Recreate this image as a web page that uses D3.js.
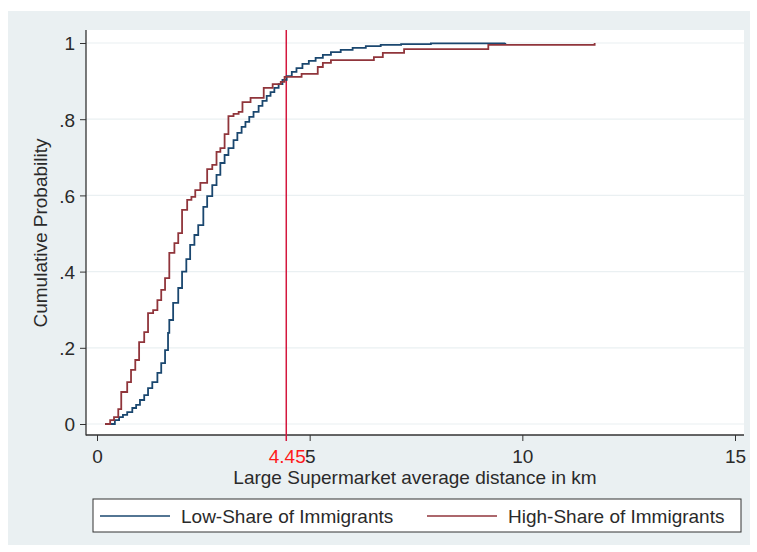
<!DOCTYPE html>
<html>
<head>
<meta charset="utf-8">
<script src="https://cdn.jsdelivr.net/npm/d3@7"></script>
<style>
  body { margin: 0; background: #fff; }
  text { font-family: Arial, "Liberation Sans", sans-serif; }
</style>
</head>
<body>
<svg id="chart" width="757" height="552"></svg>
<script>
// ECDF steps (distance km, cumulative prob)
const lowX = [0.19, 0.42, 0.52, 0.61, 0.71, 0.83, 0.92, 1.01, 1.11, 1.20, 1.30, 1.42, 1.51, 1.60, 1.67,
  1.70, 1.79, 1.91, 2.00, 2.10, 2.19, 2.29, 2.38, 2.50, 2.59, 2.71, 2.81, 2.90, 3.00, 3.09, 3.21,
  3.30, 3.40, 3.49, 3.58, 3.68, 3.80, 3.89, 3.99, 4.08, 4.17, 4.27, 4.36, 4.46, 4.58, 4.69, 4.83,
  4.98, 5.14, 5.31, 5.50, 5.73, 6.01, 6.32, 6.67, 7.15, 7.85, 9.60];
const lowP = [0.0, 0.01, 0.018, 0.024, 0.031, 0.042, 0.05, 0.063, 0.076, 0.094, 0.11, 0.134, 0.16, 0.194, 0.239,
  0.273, 0.318, 0.357, 0.40, 0.433, 0.47, 0.496, 0.522, 0.57, 0.598, 0.627, 0.654, 0.685, 0.706, 0.724, 0.745,
  0.764, 0.78, 0.793, 0.806, 0.819, 0.835, 0.848, 0.861, 0.871, 0.882, 0.892, 0.903, 0.913, 0.924, 0.934, 0.945,
  0.953, 0.961, 0.969, 0.976, 0.982, 0.987, 0.992, 0.995, 0.997, 0.999, 1.0];

const highX = [0.19, 0.31, 0.40, 0.50, 0.57, 0.71, 0.80, 0.90, 0.99, 1.11, 1.20, 1.32, 1.42, 1.51, 1.60,
  1.70, 1.82, 1.91, 2.00, 2.12, 2.22, 2.31, 2.43, 2.59, 2.71, 2.81, 2.90, 3.00, 3.09, 3.21, 3.33,
  3.42, 3.61, 3.92, 4.13, 4.32, 4.41, 4.81, 5.19, 5.31, 5.50, 6.51, 6.72, 7.22, 9.20, 11.70];
const highP = [0.0, 0.01, 0.018, 0.039, 0.084, 0.11, 0.142, 0.168, 0.215, 0.241, 0.291, 0.299, 0.325, 0.352, 0.383,
  0.449, 0.475, 0.501, 0.562, 0.588, 0.596, 0.614, 0.633, 0.669, 0.68, 0.714, 0.724, 0.761, 0.808, 0.814, 0.819,
  0.845, 0.856, 0.882, 0.892, 0.898, 0.911, 0.919, 0.937, 0.948, 0.955, 0.963, 0.974, 0.984, 0.995, 1.0];

const seriesNames = ["Low-Share of Immigrants", "High-Share of Immigrants"];
const seriesColors = ["#1a476f", "#90353b"];
const xTicks = [0, 5, 10, 15];
const yTicks = [0, 0.2, 0.4, 0.6, 0.8, 1];
const cutoff = 4.45;

const fs = 19;
const svg = d3.select("#chart");

// graph region + plot region
svg.append("rect").attr("x", 8).attr("y", 11).attr("width", 742).attr("height", 534).attr("fill", "#eaf0f2");
svg.append("rect").attr("x", 86).attr("y", 30).attr("width", 658).attr("height", 405).attr("fill", "#fff");

let x = d3.scaleLinear().domain([0, 15]).range([97, 735]);
let y = d3.scaleLinear().domain([0, 1]).range([424, 43]);

// gridlines
svg.append("g").selectAll("line")
  .data(yTicks)
  .enter().append("line")
  .attr("x1", 86).attr("x2", 744)
  .attr("y1", d => y(d)).attr("y2", d => y(d))
  .attr("stroke", "#eaf0f2").attr("stroke-width", 1.2);

// axes
let yAxis = d3.axisLeft(y).tickValues(yTicks).tickSize(6).tickPadding(5)
  .tickFormat(d => d === 0 ? "0" : d === 1 ? "1" : d3.format(".1f")(d).replace("0.", "."));
let gy = svg.append("g").attr("transform", "translate(86,0)").call(yAxis);
gy.select(".domain").remove();
gy.selectAll("text").attr("font-size", fs).attr("fill", "#2a2a2a").attr("dy", "0.36em");
gy.selectAll("line").attr("stroke", "#333");

let xAxis = d3.axisBottom(x).tickValues(xTicks).tickSize(6).tickPadding(6);
let gx = svg.append("g").attr("transform", "translate(0,435)").call(xAxis);
gx.select(".domain").remove();
gx.selectAll("text").attr("font-size", fs).attr("fill", "#2a2a2a").attr("y", 28).attr("dy", 0);
gx.selectAll("line").attr("stroke", "#333");

svg.append("line").attr("x1", 86).attr("x2", 86).attr("y1", 30).attr("y2", 435.5).attr("stroke", "#333").attr("stroke-width", 1.3);
svg.append("line").attr("x1", 86).attr("x2", 744).attr("y1", 435).attr("y2", 435).attr("stroke", "#333").attr("stroke-width", 1.3);

// cutoff line + label
svg.append("line").attr("x1", x(cutoff)).attr("x2", x(cutoff)).attr("y1", 30).attr("y2", 441)
  .attr("stroke", "#d4173d").attr("stroke-width", 1.5);
svg.append("text").attr("x", x(cutoff) + 1).attr("y", 463).attr("text-anchor", "middle")
  .attr("font-size", fs).attr("fill", "#ff1a1a").text("4.45");

// ECDF lines
let line = d3.line().x(d => x(d[0])).y(d => y(d[1])).curve(d3.curveStepAfter);
let series = [d3.zip(lowX, lowP), d3.zip(highX, highP)];
svg.append("g").selectAll("path")
  .data(series)
  .enter().append("path")
  .attr("d", line)
  .attr("fill", "none")
  .attr("stroke", (d, i) => seriesColors[i])
  .attr("stroke-width", 1.8);

// axis titles
svg.append("text").attr("x", 415).attr("y", 484).attr("text-anchor", "middle")
  .attr("font-size", fs).attr("fill", "#2a2a2a").text("Large Supermarket average distance in km");
svg.append("text").attr("transform", "translate(47,233) rotate(-90)").attr("text-anchor", "middle")
  .attr("font-size", fs).attr("fill", "#2a2a2a").text("Cumulative Probability");

// legend
svg.append("rect").attr("x", 93).attr("y", 499).attr("width", 648).attr("height", 33)
  .attr("fill", "#fff").attr("stroke", "#333").attr("stroke-width", 1);
let leg = svg.append("g").selectAll("g")
  .data(seriesNames)
  .enter().append("g")
  .attr("transform", (d, i) => "translate(" + [100, 427][i] + ",516)");
leg.append("line").attr("x1", 0).attr("x2", 70).attr("y1", 0).attr("y2", 0)
  .attr("stroke", (d, i) => seriesColors[i]).attr("stroke-width", 1.5);
leg.append("text").attr("x", 81).attr("y", 7).attr("font-size", fs).attr("fill", "#2a2a2a").text(d => d);
</script>
</body>
</html>
